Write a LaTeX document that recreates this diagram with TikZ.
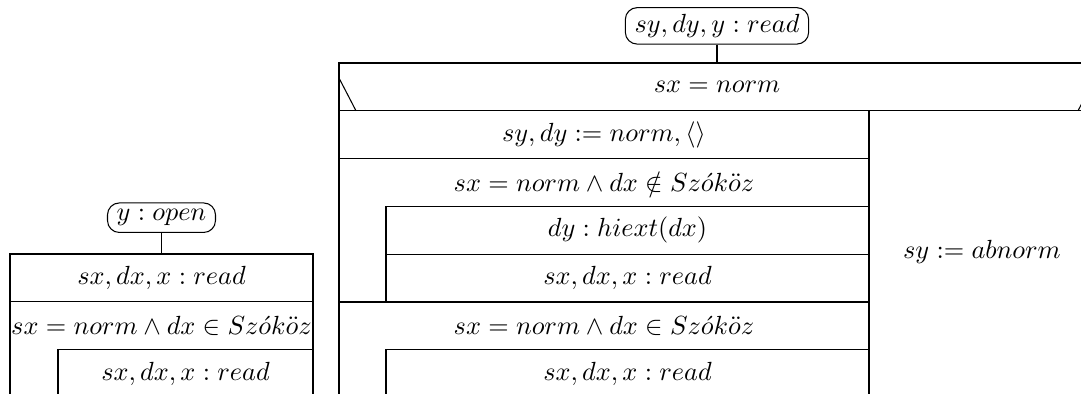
\documentclass[tikz,border=0pt]{standalone}
\usepackage{amsmath,amssymb}
\usetikzlibrary{positioning}
\newcommand{\pxu}{0.381pt}

\begin{document}
\begin{tikzpicture}[x=\pxu, y=-\pxu, node distance=8pt,
    nsbox/.style={draw, anchor=north west, minimum height=47.8*\pxu, inner sep=0pt, outer sep=0pt},
    nstext/.style={anchor=north west, minimum height=47.8*\pxu, inner sep=0pt, outer sep=0pt},
    term/.style={draw, rounded corners=4.5pt, inner xsep=3.5pt, inner ysep=2.5pt}]

    \useasboundingbox (0,0) rectangle (1081,394);
    \clip (0,0) rectangle (1081,394);

    % left program
    \node[nsbox, minimum width=303*\pxu] (lread) at (10,254) {$sx,dx,x:read$};
    \node[nstext, minimum width=303*\pxu] (lloop) at (lread.south west) {$sx=norm\land dx\in Sz\acute{o}k\ddot{o}z$};
    \node[nsbox, minimum width=255*\pxu, xshift=48*\pxu] (lbody) at (lloop.south west) {$sx,dx,x:read$};
    \node[term, above=8pt of lread] (open) {$y:open$};

    \draw (open) -- (lread);
    \draw (lread.south west) -- ++(0,120);
    \draw (lread.south east) -- ++(0,120);

    % main program
    \node[nsbox, minimum width=756*\pxu] (ifc) at (339,63) {$sx=norm$};
    \node[nsbox, minimum width=530*\pxu] (init) at (ifc.south west) {$sy,dy:=norm,\langle\rangle$};
    \node[nstext, minimum width=530*\pxu] (loopa) at (init.south west) {$sx=norm\land dx\notin Sz\acute{o}k\ddot{o}z$};
    \node[nsbox, minimum width=483*\pxu, xshift=47*\pxu] (hiext) at (loopa.south west) {$dy:hiext(dx)$};
    \node[nsbox, minimum width=483*\pxu] (reada) at (hiext.south west) {$sx,dx,x:read$};
    \node[nstext, minimum width=530*\pxu, xshift=-47*\pxu] (loopb) at (reada.south west) {$sx=norm\land dx\in Sz\acute{o}k\ddot{o}z$};
    \node[nsbox, minimum width=483*\pxu, xshift=47*\pxu] (readb) at (loopb.south west) {$sx,dx,x:read$};
    \node (abn) at (982,252) {$sy:=abnorm$};
    \node[term, above=7pt of ifc] (rd) {$sy,dy,y:read$};

    \draw (rd) -- (ifc);
    \draw ([yshift=-15*\pxu]ifc.north west) -- ([xshift=17*\pxu]ifc.south west);
    \draw ([xshift=-17*\pxu]ifc.south east) -- ([yshift=-15*\pxu]ifc.north east);
    \draw (ifc.north west) -- ++(0,340);
    \draw (init.north east) -- ++(0,300);
    \draw (loopb.north west) -- (loopb.north east);

\end{tikzpicture}
\end{document}
